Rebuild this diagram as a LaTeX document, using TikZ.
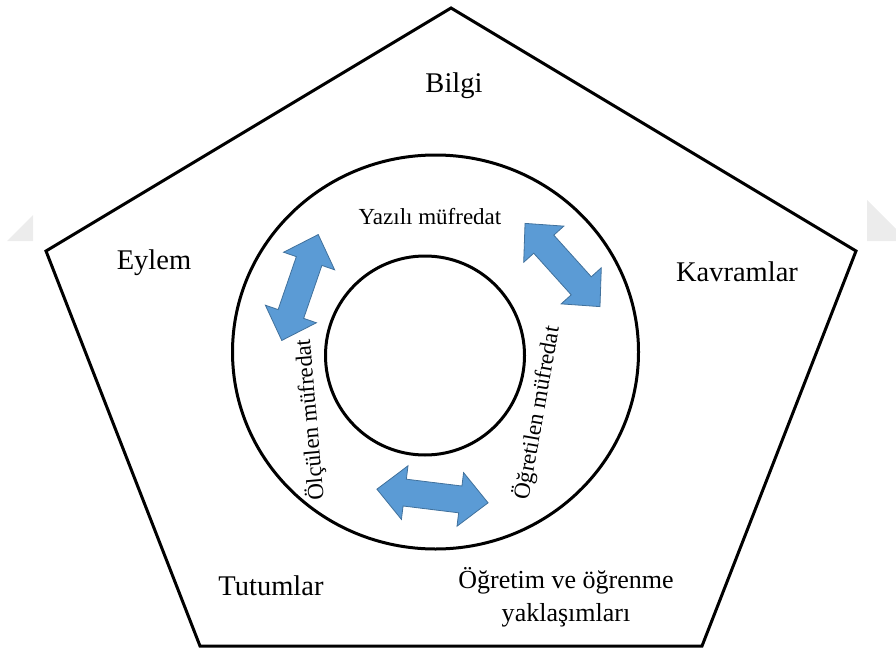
\documentclass[tikz,border=0pt]{standalone}
\usepackage{fontspec}
\setmainfont{Liberation Serif}

\definecolor{arrowblue}{RGB}{91,155,213}
\definecolor{arrowedge}{RGB}{65,113,156}
\definecolor{markgray}{RGB}{236,236,236}

\tikzset{
  outerlabel/.style={font=\fontsize{28.5}{34}\selectfont},
  cornerlabel/.style={font=\fontsize{26}{33}\selectfont, align=center},
  ringlabel/.style={font=\fontsize{23}{27}\selectfont},
  blockarrow/.style={fill=arrowblue, draw=arrowedge, line width=0.8pt, line join=miter},
}

% two-headed block arrow: centre x, centre y, angle
\newcommand{\twoway}[3]{%
  \begin{scope}[shift={(#1,#2)}, rotate=#3]
    \draw[blockarrow] (56,0) -- (28,27) -- (28,13.5) -- (-28,13.5) -- (-28,27) -- (-56,0)
      -- (-28,-27) -- (-28,-13.5) -- (28,-13.5) -- (28,-27) -- cycle;
  \end{scope}}

\begin{document}
\begin{tikzpicture}[x=1pt, y=-1pt]

\useasboundingbox (0,0) rectangle (896,650);

\fill[markgray] (7,241) -- (33,215) -- (33,241) -- cycle;
\fill[markgray] (867,200) -- (896,229) -- (896,241) -- (867,241) -- cycle;

\draw[black, line width=3pt, line join=miter] (451,8) -- (856,251) -- (702,646) -- (200,646) -- (46,251) -- cycle;

\draw[black, line width=3pt] (435.5,352) ellipse (203 and 197);
\draw[black, line width=3pt] (425,355.5) circle (99.5);

\twoway{562.5}{265}{-48}
\twoway{300}{287.5}{71}
\twoway{432.5}{496}{-7}

\node[outerlabel] (bilgi) at (454,86) {Bilgi};
\node[outerlabel] (eylem) at (154,263) {Eylem};
\node[outerlabel] (kavramlar) at (737,272) {Kavramlar};
\node[outerlabel] (tutumlar) at (271,586) {Tutumlar};
\node[cornerlabel] (yaklasim) at (566,597) {Öğretim ve öğrenme\\yaklaşımları};

\node[ringlabel] (yazili) at (430,217) {Yazılı müfredat};
\node[ringlabel, rotate=95] (olculen) at (310,420) {Ölçülen müfredat};
\node[ringlabel, rotate=80] (ogretilen) at (537,413) {Öğretilen müfredat};

\end{tikzpicture}
\end{document}
